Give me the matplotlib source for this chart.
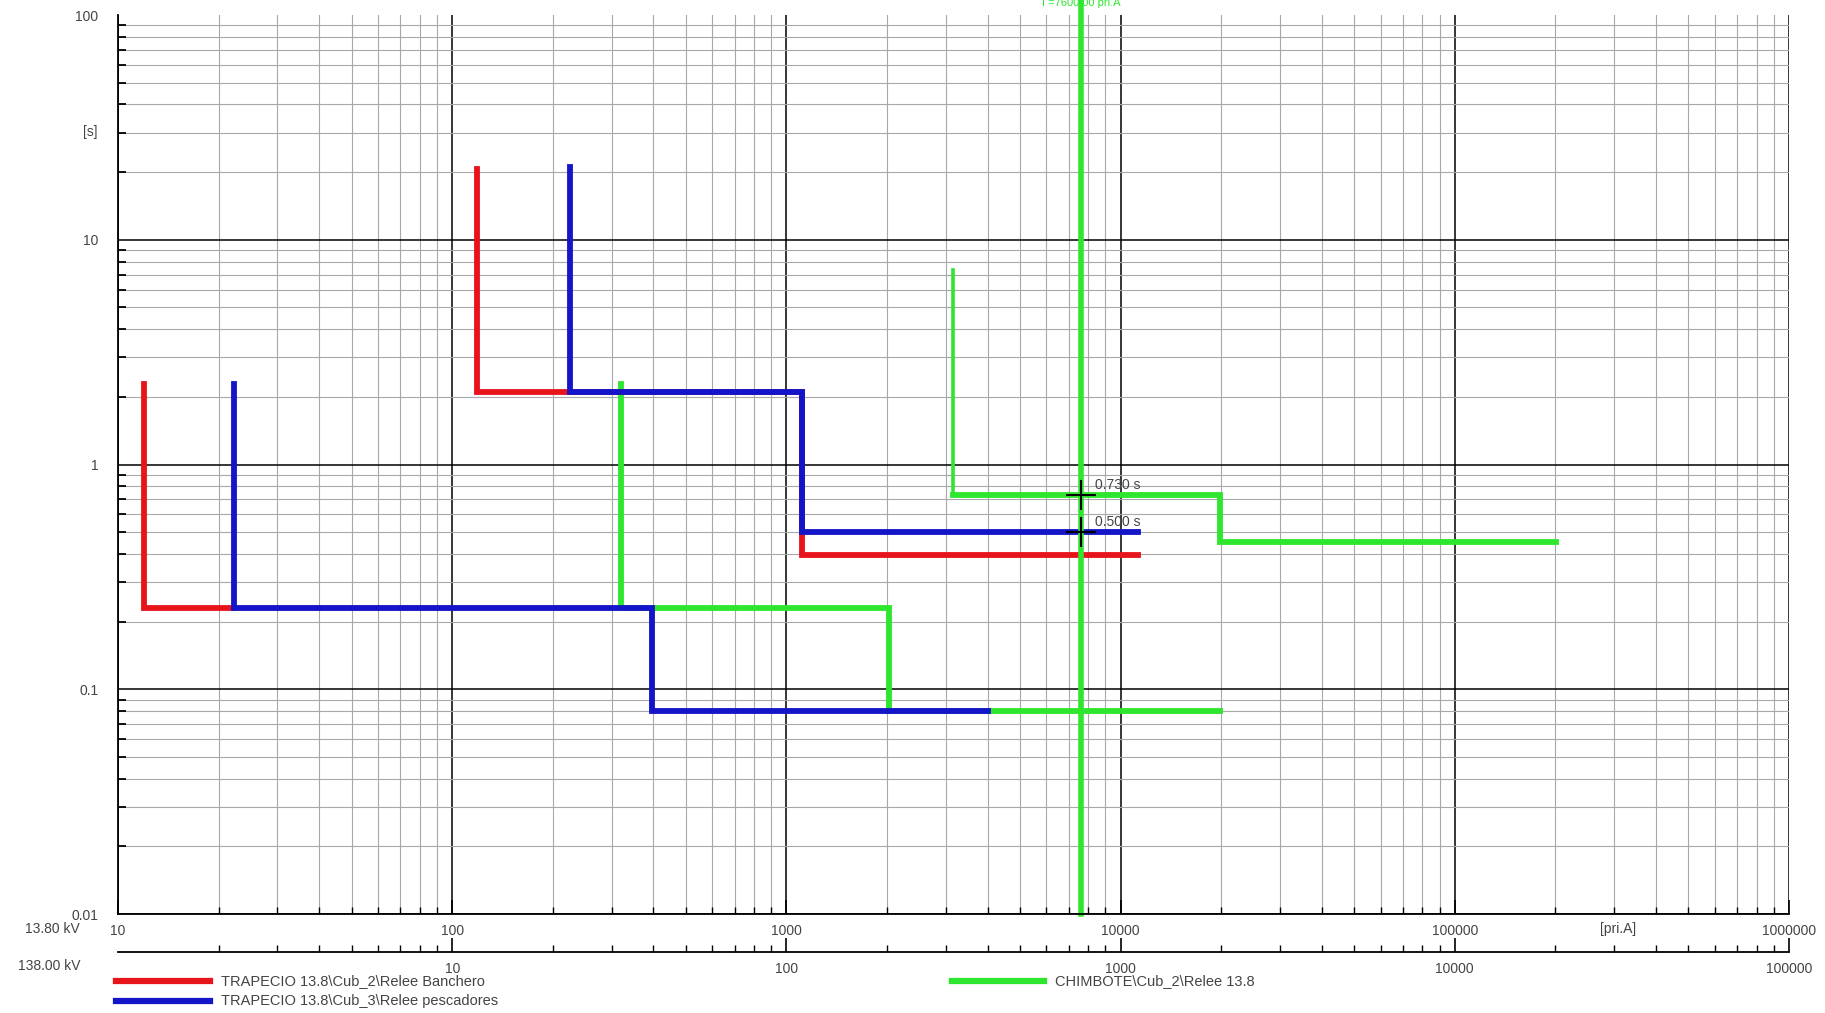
import matplotlib
matplotlib.use("Agg")
import matplotlib.pyplot as plt
from matplotlib.lines import Line2D
from matplotlib.ticker import FixedLocator, LogLocator, NullFormatter

plt.rcParams["font.family"] = ["Liberation Sans", "DejaVu Sans"]

# currents [pri.A] and times [s]
red_a_i = [12, 12, 22.3]
red_a_t = [2.28, 0.23, 0.23]
red_b_i = [119, 119, 1110, 1110, 11300]
red_b_t = [20.7, 2.1, 2.1, 0.394, 0.394]

blue_a_i = [22.3, 22.3, 397, 397, 4010]
blue_a_t = [2.28, 0.23, 0.23, 0.08, 0.08]
blue_b_i = [225, 225, 1110, 1110, 11300]
blue_b_t = [21, 2.1, 2.1, 0.5, 0.5]

green_a_i = [320, 320, 2030, 2030, 19900]
green_a_t = [2.28, 0.23, 0.23, 0.08, 0.08]
green_b_top_i = [3150, 3150]
green_b_top_t = [7.3, 0.73]
green_b_i = [3150, 19900, 19900, 201000]
green_b_t = [0.73, 0.73, 0.45, 0.45]

fault_i = 7600
cross_t = [0.73, 0.5]
cross_lbl = ["0.730 s", "0.500 s"]

y_ticks = [0.01, 0.1, 1, 10, 100]
y_labels = ["0.01", "0.1", "1", "10", "100"]
x_ticks = [10, 100, 1000, 10000, 100000, 1000000]
x_labels = ["10", "100", "1000", "10000", "100000", "1000000"]
x2_ticks = [10, 100, 1000, 10000, 100000]
x2_labels = ["10", "100", "1000", "10000", "100000"]

RED = "#e8141c"
BLUE = "#1414c8"
GREEN = "#2ee62e"
TXT = "#444444"
FS = 10

W, H = 1825, 1013
fig = plt.figure(figsize=(W / 100, H / 100), dpi=100)
L, R, T, B = 118, 1789, 15, 914
ax = fig.add_axes([L / W, 1 - B / H, (R - L) / W, (B - T) / H])
ax.set_xscale("log")
ax.set_yscale("log")
ax.set_xlim(10, 1000000)
ax.set_ylim(0.01, 100)

ax.xaxis.set_major_locator(FixedLocator(x_ticks))
ax.xaxis.set_minor_locator(LogLocator(base=10, subs=range(2, 10)))
ax.xaxis.set_minor_formatter(NullFormatter())
ax.set_xticklabels(x_labels)
ax.yaxis.set_major_locator(FixedLocator(y_ticks))
ax.yaxis.set_minor_locator(LogLocator(base=10, subs=range(2, 10)))
ax.yaxis.set_minor_formatter(NullFormatter())
ax.set_yticklabels(y_labels)

ax.grid(True, which="major", color="black", lw=1.1)
ax.grid(True, which="minor", color="#a8a8a8", lw=0.8)
ax.yaxis.get_gridlines()[-1].set_visible(False)
for s in ("top", "right"):
    ax.spines[s].set_visible(False)
for s in ("left", "bottom"):
    ax.spines[s].set_linewidth(1.3)

ax.tick_params(axis="x", which="major", direction="in", length=10, width=1.2,
               labelsize=FS, labelcolor=TXT, pad=7)
ax.tick_params(axis="x", which="minor", direction="in", length=5, width=1)
ax.tick_params(axis="y", which="major", direction="in", length=0,
               labelsize=FS, labelcolor=TXT, pad=14)
ax.tick_params(axis="y", which="minor", direction="in", length=6, width=1.3)

# curves
lw = 4.2
ax.plot(green_a_i, green_a_t, color=GREEN, lw=lw, solid_joinstyle="miter")
ax.plot(green_b_top_i, green_b_top_t, color=GREEN, lw=2.6)
ax.plot(green_b_i, green_b_t, color=GREEN, lw=lw, solid_joinstyle="miter")
ax.plot(red_a_i, red_a_t, color=RED, lw=lw, solid_joinstyle="miter")
ax.plot(red_b_i, red_b_t, color=RED, lw=lw, solid_joinstyle="miter")
ax.plot(blue_a_i, blue_a_t, color=BLUE, lw=lw, solid_joinstyle="miter")
ax.plot(blue_b_i, blue_b_t, color=BLUE, lw=lw, solid_joinstyle="miter")

# fault current line
ax.axvline(fault_i, ymin=0, ymax=1.015, color=GREEN, lw=4, clip_on=False)
ax.text(fault_i, 100 * 10 ** 0.055, "I =7600.00 pri.A", color=GREEN, fontsize=8,
        ha="center", va="center", clip_on=False)

for t, lbl in zip(cross_t, cross_lbl):
    ax.plot([fault_i], [t], marker="+", color="black", ms=22, mew=1.5)
    ax.text(fault_i * 1.1, t * 1.03, lbl, fontsize=FS, color=TXT, ha="left", va="bottom")

ax.text(-0.012, 0.87, "[s]", transform=ax.transAxes, fontsize=FS, color=TXT,
        ha="right", va="center")
ax.text(0.898, -0.017, "[pri.A]", transform=ax.transAxes, fontsize=FS, color=TXT,
        ha="center", va="center")

# second current axis (138 kV side)
ax2 = fig.add_axes([L / W, 1 - 952 / H, (R - L) / W, 0.0001])
ax2.set_xscale("log")
ax2.set_xlim(1, 100000)
ax2.set_yticks([])
for s in ("top", "right", "left"):
    ax2.spines[s].set_visible(False)
ax2.spines["bottom"].set_linewidth(1.3)
ax2.xaxis.set_major_locator(FixedLocator(x2_ticks))
ax2.xaxis.set_minor_locator(LogLocator(base=10, subs=range(2, 10)))
ax2.xaxis.set_minor_formatter(NullFormatter())
ax2.set_xticklabels(x2_labels)
ax2.tick_params(axis="x", which="major", direction="in", length=10, width=1.2,
                labelsize=FS, labelcolor=TXT, pad=7)
ax2.tick_params(axis="x", which="minor", direction="in", length=5, width=1)
ax2.patch.set_visible(False)

fig.text(80 / W, 1 - 929 / H, "13.80 kV", fontsize=FS, color=TXT, ha="right", va="center")
fig.text(80 / W, 1 - 966 / H, "138.00 kV", fontsize=FS, color=TXT, ha="right", va="center")

# legend
legend = [
    (116, 210, 981, RED, "TRAPECIO 13.8\\Cub_2\\Relee Banchero"),
    (116, 210, 1001, BLUE, "TRAPECIO 13.8\\Cub_3\\Relee pescadores"),
    (952, 1044, 981, GREEN, "CHIMBOTE\\Cub_2\\Relee 13.8"),
]
for x0, x1, y, c, name in legend:
    fig.add_artist(Line2D([x0 / W, x1 / W], [1 - y / H, 1 - y / H], color=c, lw=4.5))
    fig.text((x1 + 11) / W, 1 - y / H, name, fontsize=10.5, color=TXT, ha="left", va="center")

fig.savefig("out.png", dpi=100)
